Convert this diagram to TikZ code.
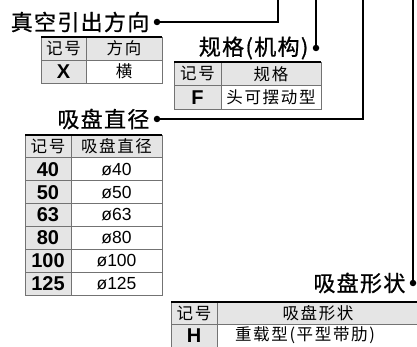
\documentclass[tikz,border=0pt]{standalone}
\usepackage{fontspec}
\setmainfont{Liberation Sans}
\newfontfamily\cjk[LetterSpace=10]{Noto Sans CJK SC}
\newfontfamily\cjkhead[LetterSpace=6, FakeBold=0.8]{Noto Sans CJK SC}
\usetikzlibrary{positioning}

\tikzset{
    headlabel/.style={font=\cjkhead\fontsize{22}{22}\selectfont, anchor=east, inner sep=0pt},
    leaddot/.style={circle, fill=black, inner sep=0pt, minimum size=6.5pt},
    leader/.style={line width=2pt},
    cell/.style={rectangle, draw=black!55, line width=0.8pt, inner sep=0pt, outer sep=0pt, minimum width=#1, font=\cjk\fontsize{16.5}{16.5}\selectfont},
    headcell/.style={cell=#1, fill=black!10},
    keycell/.style={cell=#1, fill=black!10, font=\bfseries\fontsize{20}{20}\selectfont},
    valcell/.style={cell=#1, fill=white},
    numcell/.style={cell=#1, fill=white, font=\fontsize{17.5}{17.5}\selectfont},
    tabletop/.style={line width=1.8pt}
}

\begin{document}
\begin{tikzpicture}[x=1pt, y=-1pt]
    \useasboundingbox (0,0) rectangle (417,347);
    \clip (0,0) rectangle (417,347);

    % Leaders and labels
    \node[leaddot] (dot1) at (157,22) {};
    \node[headlabel, left=4pt of dot1] (lbl1) {真空引出方向};
    \coordinate (top1) at (278,-3);
    \draw[leader] (dot1.center) -| (top1);

    \node[leaddot] (dot2) at (316,48) {};
    \node[headlabel, left=4pt of dot2] (lbl2) {规格(机构)};
    \coordinate (top2) at (316,-3);
    \draw[leader] (dot2.center) -- (top2);

    \node[leaddot] (dot3) at (157,119) {};
    \node[headlabel, left=4pt of dot3] (lbl3) {吸盘直径};
    \coordinate (top3) at (363,-3);
    \draw[leader] (dot3.center) -| (top3);

    \node[leaddot] (dot4) at (413,283) {};
    \node[headlabel, left=4pt of dot4] (lbl4) {吸盘形状};
    \coordinate (top4) at (413,-3);
    \draw[leader] (dot4.center) -- (top4);

    % Table: direction
    \node[headcell=45pt, minimum height=23pt, anchor=north west] (dirA) at (41,37) {记号};
    \node[headcell=76pt, minimum height=23pt, right=0pt of dirA] (dirB) {方向};
    \node[keycell=45pt, minimum height=23pt, below=0pt of dirA] (dirX) {X};
    \node[valcell=76pt, minimum height=23pt, below=0pt of dirB] (dirXv) {横};
    \draw[tabletop] (dirA.north west) -- (dirB.north east);

    % Table: spec
    \node[headcell=47pt, minimum height=23.5pt, anchor=north west] (specA) at (174,62) {记号};
    \node[headcell=100pt, minimum height=23.5pt, right=0pt of specA] (specB) {规格};
    \node[keycell=47pt, minimum height=23.5pt, below=0pt of specA] (specF) {F};
    \node[valcell=100pt, minimum height=23.5pt, below=0pt of specB] (specFv) {头可摆动型};
    \draw[tabletop] (specA.north west) -- (specB.north east);

    % Table: pad diameter
    \node[headcell=46pt, minimum height=22.86pt, anchor=north west] (diaA) at (25,135) {记号};
    \node[headcell=91pt, minimum height=22.86pt, right=0pt of diaA] (diaB) {吸盘直径};
    \foreach \d [count=\i, remember=\i as \j (initially 0)] in {40,50,63,80,100,125} {
        \ifnum\j=0
            \node[keycell=46pt, minimum height=22.86pt, below=0pt of diaA] (dia\i) {\d};
            \node[numcell=91pt, minimum height=22.86pt, below=0pt of diaB] (diav\i) {ø\d};
        \else
            \node[keycell=46pt, minimum height=22.86pt, below=0pt of dia\j] (dia\i) {\d};
            \node[numcell=91pt, minimum height=22.86pt, below=0pt of diav\j] (diav\i) {ø\d};
        \fi
    }
    \draw[tabletop] (diaA.north west) -- (diaB.north east);

    % Table: pad shape
    \node[headcell=46pt, minimum height=22.5pt, anchor=north west] (shpA) at (171,302) {记号};
    \node[headcell=202pt, minimum height=22.5pt, right=0pt of shpA] (shpB) {吸盘形状};
    \node[keycell=46pt, minimum height=22.5pt, below=0pt of shpA] (shpH) {H};
    \node[valcell=202pt, minimum height=22.5pt, below=0pt of shpB] (shpHv) {};
    \node[font=\cjk\fontsize{16.5}{16.5}\selectfont, inner sep=0pt] (shpHt) at (305,335.5) {重载型(平型带肋)};
    \draw[tabletop] (shpA.north west) -- (shpB.north east);
\end{tikzpicture}
\end{document}
